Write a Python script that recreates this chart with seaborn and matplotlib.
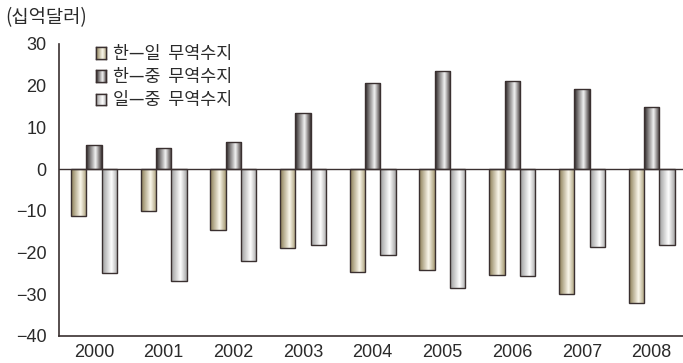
import numpy as np
import pandas as pd
import seaborn as sns
import matplotlib.pyplot as plt
from matplotlib.colors import LinearSegmentedColormap

years = ["2000", "2001", "2002", "2003", "2004", "2005", "2006", "2007", "2008"]
series = ["한—일  무역수지", "한—중  무역수지", "일—중  무역수지"]
kor_jpn = [-11.2, -10.1, -14.7, -19.0, -24.6, -24.3, -25.3, -30.0, -32.0]
kor_chn = [5.8, 5.1, 6.5, 13.5, 20.6, 23.6, 21.2, 19.3, 14.8]
jpn_chn = [-25.0, -26.9, -22.0, -18.2, -20.5, -28.4, -25.6, -18.6, -18.3]

df = pd.DataFrame({
    "year": years * 3,
    "series": [s for s in series for _ in years],
    "value": kor_jpn + kor_chn + jpn_chn,
})

# gradient stops per series: left edge, highlight, right edge
grads = [
    ["#8a7d55", "#fbf8ec", "#a89c76"],
    ["#2a2424", "#f2f2f2", "#3a3232"],
    ["#9c9c9c", "#ffffff", "#a6a6a6"],
]
mids = ["#d8cfb0", "#8a8686", "#e6e6e6"]
edge = "#3a3030"
txt = "#2a2a2a"

sns.set_theme(style="white")
plt.rcParams["font.family"] = ["Noto Sans CJK KR", "DejaVu Sans"]
plt.rcParams["axes.unicode_minus"] = True

fig = plt.figure(figsize=(6.83, 3.63), dpi=100)
ax = fig.add_axes([0.0864, 0.0744, 0.9136, 0.8046])

sns.barplot(data=df, x="year", y="value", hue="series", hue_order=series,
            palette=mids, width=0.66, saturation=1, edgecolor=edge,
            linewidth=1.0, ax=ax)

ramp = np.linspace(0, 1, 64).reshape(1, -1)
cmaps = [LinearSegmentedColormap.from_list(
    "g", [(0, s[0]), (0.6, s[1]), (1, s[2])]) for s in grads]
for cont, cmap in zip(ax.containers, cmaps):
    for p in cont.patches:
        x, y = p.get_x(), p.get_y()
        w, h = p.get_width(), p.get_height()
        im = ax.imshow(ramp, extent=[x, x + w, min(y, y + h), max(y, y + h)],
                       aspect="auto", cmap=cmap, zorder=p.get_zorder() - 0.1,
                       interpolation="bilinear")
        im.set_clip_path(p)
        p.set_facecolor("none")

ax.set_xlim(-0.5, 8.45)
ax.set_ylim(-40, 30)
ax.set_yticks(range(-40, 31, 10))
ax.set_xticks(np.arange(0.5, 8.5, 1))
ax.set_xticklabels([])
ax.set_xticks(range(len(years)), labels=years, minor=True)
ax.tick_params(axis="x", which="minor", length=0, pad=6)
ax.tick_params(axis="x", which="major", direction="out", length=5, width=1, color=edge)
ax.tick_params(axis="y", direction="out", length=6, width=1, color=edge, pad=3)
for lab in ax.get_yticklabels() + ax.get_xticklabels(minor=True):
    lab.set_fontfamily(["Liberation Sans", "DejaVu Sans"])
    lab.set_fontsize(13)
    lab.set_color(txt)
ax.axhline(0, color=edge, linewidth=1, zorder=1)
for s in ["top", "right"]:
    ax.spines[s].set_visible(False)
for s in ["left", "bottom"]:
    ax.spines[s].set_color(edge)
    ax.spines[s].set_linewidth(1.2)
ax.set_xlabel("")
ax.set_ylabel("")

leg = ax.legend(loc="upper left", bbox_to_anchor=(0.048, 1.02), frameon=False,
                fontsize=12.5, handlelength=0.6, handleheight=0.65,
                handletextpad=0.4, labelspacing=0.3, borderaxespad=0)
for t in leg.get_texts():
    t.set_color(txt)

fig.text(0.008, 0.952, "(십억달러)", fontsize=13.5, color=txt, va="center")

# paint the same gradients into the legend swatches
fig.canvas.draw()
inv = fig.transFigure.inverted()
for h, cmap in zip(leg.get_patches(), cmaps):
    bb = h.get_window_extent().transformed(inv)
    sw = fig.add_axes([bb.x0, bb.y0, bb.width, bb.height])
    sw.imshow(ramp, aspect="auto", cmap=cmap, interpolation="bilinear")
    sw.set_xticks([])
    sw.set_yticks([])
    for sp in sw.spines.values():
        sp.set_color(edge)
        sp.set_linewidth(1.0)

fig.savefig("out.png", dpi=100)
